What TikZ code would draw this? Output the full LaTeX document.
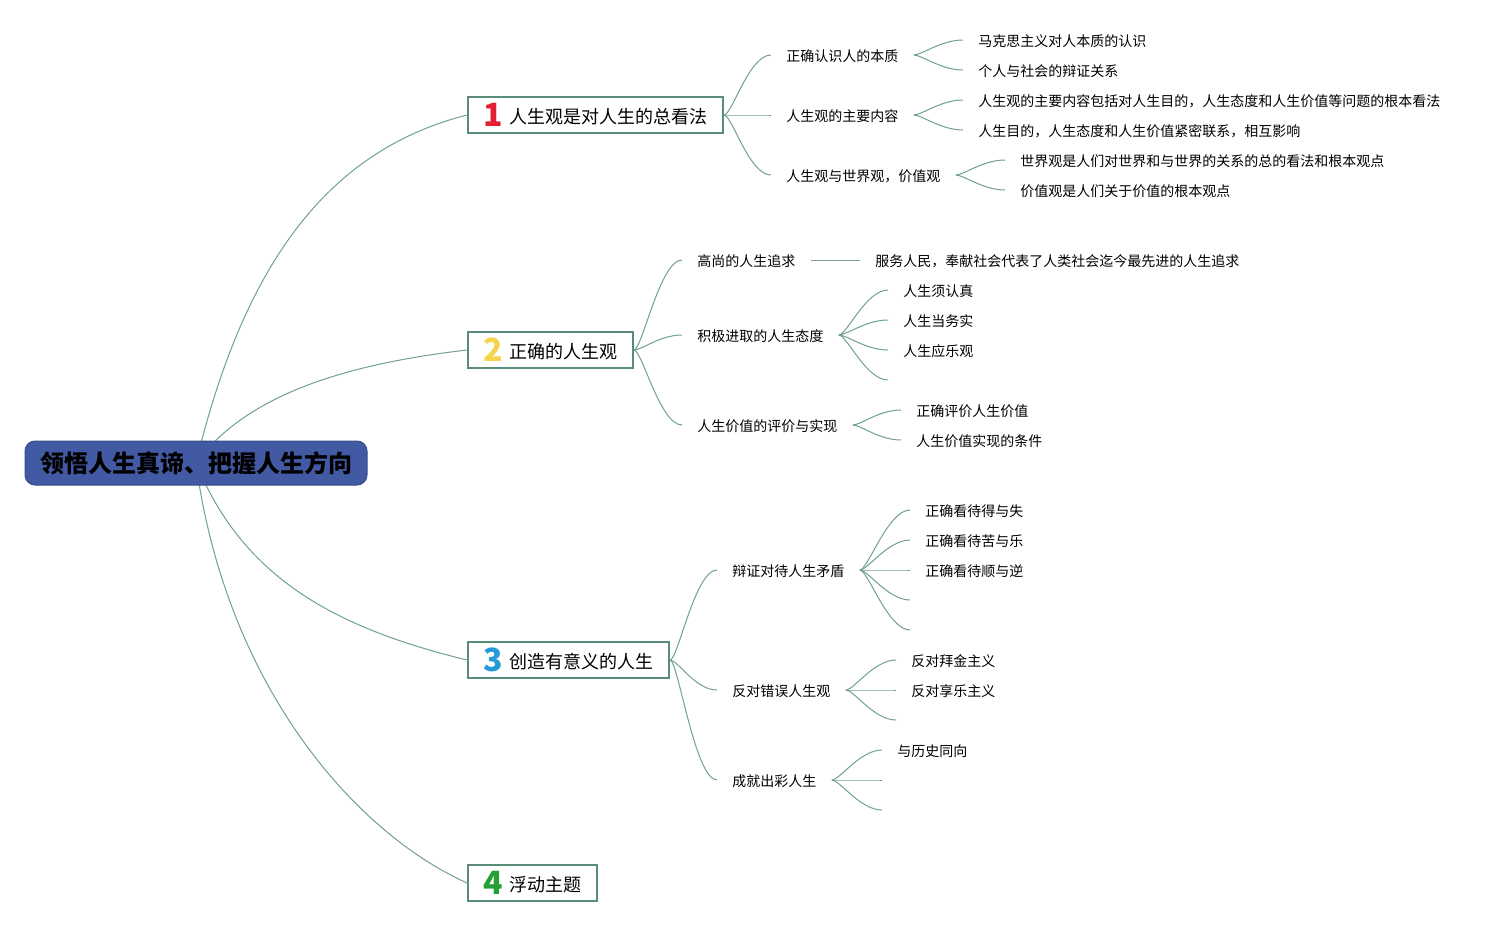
\documentclass[tikz,border=0pt]{standalone}
\usepackage{fontspec}
\setmainfont{Noto Sans CJK SC}
\usetikzlibrary{backgrounds}
\definecolor{mapline}{RGB}{112, 160, 142}
\definecolor{mapborder}{RGB}{90, 140, 122}
\definecolor{rootblue}{RGB}{66, 89, 164}
\definecolor{numred}{RGB}{226, 30, 52}
\definecolor{numyellow}{RGB}{246, 212, 76}
\definecolor{numblue}{RGB}{38, 154, 216}
\definecolor{numgreen}{RGB}{38, 160, 52}
\newcommand{\topicnum}[2]{\raisebox{-1.5pt}{\smash{\fontsize{16pt}{16pt}\selectfont\bfseries\color{#1}#2}}\hspace{3pt}}
\tikzstyle{rootbox} = [
  draw=rootblue!85!black,
  fill=rootblue,
  rounded corners=5pt,
  line width=0.5pt,
  minimum width=171pt,
  minimum height=22pt,
  font=\fontsize{12pt}{14pt}\selectfont\bfseries,
]
\tikzstyle{topic} = [
  draw=mapborder,
  fill=white,
  line width=1pt,
  anchor=west,
  minimum height=18pt,
  inner xsep=6pt,
  inner ysep=0pt,
  text height=9pt,
  text depth=0.2pt,
  font=\fontsize{9pt}{11pt}\selectfont,
]
\tikzstyle{leaf} = [
  anchor=west,
  inner xsep=7.5pt,
  inner ysep=1pt,
  text height=7pt,
  text depth=0.3pt,
  font=\fontsize{7pt}{8pt}\selectfont,
]
\tikzstyle{trunk} = [draw=mapline, line width=0.5pt]
\tikzstyle{branch} = [
  draw=mapline,
  line width=0.5pt,
  to path={.. controls +(8,0) and +(-22,0) .. (\tikztotarget)},
]

\begin{document}
\begin{tikzpicture}[x=0.5pt, y=-0.5pt]
            \useasboundingbox (0,0) rectangle (1501,926);

            % Root
            \node[rootbox] (root) at (196,463) {领悟人生真谛、把握人生方向};

            % Topics
            \node[topic, minimum width=127.5pt] (t1) at (467,115) {\topicnum{numred}{1}人生观是对人生的总看法};
            \node[topic, minimum width=82.5pt] (t2) at (467,350) {\topicnum{numyellow}{2}正确的人生观};
            \node[topic, minimum width=100.5pt] (t3) at (467,660) {\topicnum{numblue}{3}创造有意义的人生};
            \node[topic, minimum width=64.5pt] (t4) at (467,883) {\topicnum{numgreen}{4}浮动主题};

            % Trunk lines, behind the root
            \begin{scope}[on background layer]
                \draw[trunk] (root.center) .. controls (245,260) and (330,150) .. (t1.west);
                \draw[trunk] (root.center) .. controls (247,394) and (347,364) .. (t2.west);
                \draw[trunk] (root.center) .. controls (241,573) and (327,626) .. (t3.west);
                \draw[trunk] (root.center) .. controls (225,680) and (350,830) .. (t4.west);
            \end{scope}

            % Topic 1
            \node[leaf] (t1a) at (771,55) {正确认识人的本质};
            \node[leaf] (t1b) at (771,115) {人生观的主要内容};
            \node[leaf] (t1c) at (771,175) {人生观与世界观，价值观};
            \node[leaf] (t1a1) at (963,40) {马克思主义对人本质的认识};
            \node[leaf] (t1a2) at (963,70) {个人与社会的辩证关系};
            \node[leaf] (t1b1) at (963,100) {人生观的主要内容包括对人生目的，人生态度和人生价值等问题的根本看法};
            \node[leaf] (t1b2) at (963,130) {人生目的，人生态度和人生价值紧密联系，相互影响};
            \node[leaf] (t1c1) at (1005,160) {世界观是人们对世界和与世界的关系的总的看法和根本观点};
            \node[leaf] (t1c2) at (1005,190) {价值观是人们关于价值的根本观点};

            \draw[branch] (t1.east) to (t1a.west);
            \draw[branch] (t1.east) to (t1b.west);
            \draw[branch] (t1.east) to (t1c.west);
            \draw[branch] (t1a.east) to (t1a1.west);
            \draw[branch] (t1a.east) to (t1a2.west);
            \draw[branch] (t1b.east) to (t1b1.west);
            \draw[branch] (t1b.east) to (t1b2.west);
            \draw[branch] (t1c.east) to (t1c1.west);
            \draw[branch] (t1c.east) to (t1c2.west);

            % Topic 2
            \node[leaf] (t2a) at (682,260) {高尚的人生追求};
            \node[leaf] (t2b) at (682,335) {积极进取的人生态度};
            \node[leaf] (t2c) at (682,425) {人生价值的评价与实现};
            \node[leaf] (t2a1) at (860,260) {服务人民，奉献社会代表了人类社会迄今最先进的人生追求};
            \node[leaf] (t2b1) at (888,290) {人生须认真};
            \node[leaf] (t2b2) at (888,320) {人生当务实};
            \node[leaf] (t2b3) at (888,350) {人生应乐观};
            \coordinate (t2b4) at (888,380);
            \node[leaf] (t2c1) at (901,410) {正确评价人生价值};
            \node[leaf] (t2c2) at (901,440) {人生价值实现的条件};

            \draw[branch] (t2.east) to (t2a.west);
            \draw[branch] (t2.east) to (t2b.west);
            \draw[branch] (t2.east) to (t2c.west);
            \draw[trunk] (t2a.east) -- (t2a1.west);
            \draw[branch] (t2b.east) to (t2b1.west);
            \draw[branch] (t2b.east) to (t2b2.west);
            \draw[branch] (t2b.east) to (t2b3.west);
            \draw[branch] (t2b.east) to (t2b4);
            \draw[branch] (t2c.east) to (t2c1.west);
            \draw[branch] (t2c.east) to (t2c2.west);

            % Topic 3
            \node[leaf] (t3a) at (717,570) {辩证对待人生矛盾};
            \node[leaf] (t3b) at (717,690) {反对错误人生观};
            \node[leaf] (t3c) at (717,780) {成就出彩人生};
            \node[leaf] (t3a1) at (910,510) {正确看待得与失};
            \node[leaf] (t3a2) at (910,540) {正确看待苦与乐};
            \node[leaf] (t3a3) at (910,570) {正确看待顺与逆};
            \coordinate (t3a4) at (910,600);
            \coordinate (t3a5) at (910,630);
            \node[leaf] (t3b1) at (896,660) {反对拜金主义};
            \node[leaf] (t3b2) at (896,690) {反对享乐主义};
            \coordinate (t3b3) at (896,720);
            \node[leaf] (t3c1) at (882,750) {与历史同向};
            \coordinate (t3c2) at (882,780);
            \coordinate (t3c3) at (882,810);

            \draw[branch] (t3.east) to (t3a.west);
            \draw[branch] (t3.east) to (t3b.west);
            \draw[branch] (t3.east) to (t3c.west);
            \draw[branch] (t3a.east) to (t3a1.west);
            \draw[branch] (t3a.east) to (t3a2.west);
            \draw[branch] (t3a.east) to (t3a3.west);
            \draw[branch] (t3a.east) to (t3a4);
            \draw[branch] (t3a.east) to (t3a5);
            \draw[branch] (t3b.east) to (t3b1.west);
            \draw[branch] (t3b.east) to (t3b2.west);
            \draw[branch] (t3b.east) to (t3b3);
            \draw[branch] (t3c.east) to (t3c1.west);
            \draw[branch] (t3c.east) to (t3c2);
            \draw[branch] (t3c.east) to (t3c3);
          \end{tikzpicture}
\end{document}
